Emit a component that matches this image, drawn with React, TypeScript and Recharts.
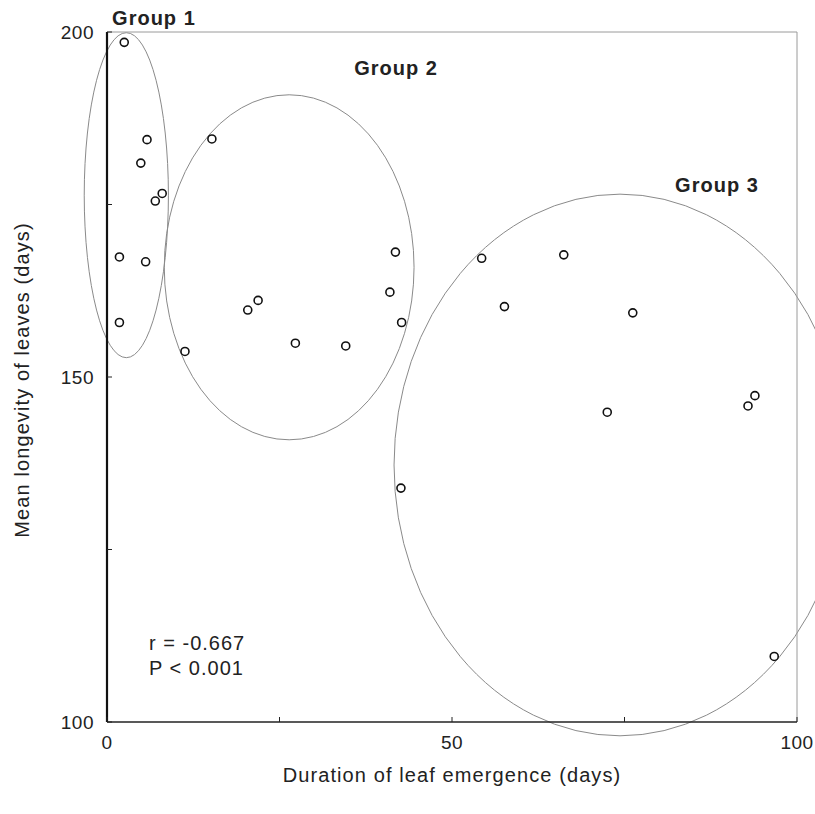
import React from "react";
import {
  ScatterChart,
  Scatter,
  XAxis,
  YAxis,
  ReferenceArea,
  ReferenceLine,
  ReferenceDot,
} from "recharts";

const FONT = '"Liberation Sans", Arial, Helvetica, sans-serif';

// leaf emergence duration (days) and mean leaf longevity (days)
const duration = [
  2.5, 5.8, 4.9, 8.0, 7.0, 1.8, 5.6, 1.8,
  15.2, 11.3, 20.4, 21.9, 27.3, 34.6, 41.8, 41.0, 42.7,
  42.6, 54.3, 66.2, 57.6, 76.2, 72.5, 93.9, 92.9, 96.7,
];
const longevity = [
  198.5, 184.4, 181.0, 176.6, 175.5, 167.4, 166.7, 157.9,
  184.5, 153.7, 159.7, 161.1, 154.9, 154.5, 168.1, 162.3, 157.9,
  133.9, 167.2, 167.7, 160.2, 159.3, 144.9, 147.3, 145.8, 109.5,
];

const xTicks = [0, 25, 50, 75, 100];
const yTicks = [100, 125, 150, 175, 200];
const labelled = [0, 50, 100, 150, 200];

// group ellipses: bounding boxes in data units [x1, x2, y1, y2]
const groupNames = ["Group 1", "Group 2", "Group 3"];
const groupBoxes = [
  [-3.3, 8.9, 152.8, 199.9],
  [8.3, 44.5, 140.9, 190.9],
  [41.6, 107.1, 98.0, 176.5],
];
const groupLabelX = [6.8, 41.9, 88.4];
const groupLabelY = [202.0, 194.8, 177.8];

const statLines = ["r = -0.667", "P < 0.001"];
const statX = 6.1;
const statY = [111.4, 107.8];

const points = duration.map((d, i) => ({ x: d, y: longevity[i] }));

const XTick = (props: any) => {
  const { x, y, payload } = props;
  return (
    <g>
      <line x1={x} y1={y} x2={x} y2={y - 5} stroke="#222" strokeWidth={1} />
      {labelled.includes(payload.value) && (
        <text x={x} y={y + 27} textAnchor="middle" fontSize={19} letterSpacing={0.5} fontFamily={FONT} fill="#222">
          {payload.value}
        </text>
      )}
    </g>
  );
};

const YTick = (props: any) => {
  const { x, y, payload } = props;
  return (
    <g>
      <line x1={x} y1={y} x2={x + 5} y2={y} stroke="#222" strokeWidth={1} />
      {labelled.includes(payload.value) && (
        <text x={x - 13} y={y + 7} textAnchor="end" fontSize={19} letterSpacing={0.5} fontFamily={FONT} fill="#222">
          {payload.value}
        </text>
      )}
    </g>
  );
};

const XTitle = (props: any) => {
  const vb = props.viewBox;
  return (
    <text
      x={vb.x + vb.width / 2}
      y={vb.y + 60}
      textAnchor="middle"
      fontSize={20}
      letterSpacing={1.1}
      fontFamily={FONT}
      fill="#222"
    >
      Duration of leaf emergence (days)
    </text>
  );
};

const YTitle = (props: any) => {
  const vb = props.viewBox;
  const cx = vb.x + 22;
  const cy = vb.y + vb.height / 2 + 3;
  return (
    <text
      x={cx}
      y={cy}
      transform={`rotate(-90 ${cx} ${cy})`}
      textAnchor="middle"
      dominantBaseline="central"
      fontSize={20}
      letterSpacing={1.1}
      fontFamily={FONT}
      fill="#222"
    >
      Mean longevity of leaves (days)
    </text>
  );
};

const Ellipse = (props: any) => {
  const { x, y, width, height } = props;
  return (
    <ellipse
      cx={x + width / 2}
      cy={y + height / 2}
      rx={Math.abs(width) / 2}
      ry={Math.abs(height) / 2}
      fill="none"
      stroke="#8a8a8a"
      strokeWidth={1}
    />
  );
};

const textShape = (txt: string, anchor: string, size: number, weight: any) => (props: any) => (
  <text
    x={props.cx}
    y={props.cy}
    textAnchor={anchor}
    dominantBaseline="central"
    fontSize={size}
    fontWeight={weight}
    letterSpacing={1}
    fontFamily={FONT}
    fill="#222"
  >
    {txt}
  </text>
);

const OpenCircle = (props: any) => (
  <circle cx={props.cx} cy={props.cy} r={4} fill="#fff" stroke="#111" strokeWidth={1.6} />
);

export default function App() {
  return (
    <div style={{ position: "absolute", left: 0, top: 0, background: "#fff" }}>
      <ScatterChart width={815} height={814} margin={{ top: 32, right: 18, bottom: 0, left: 0 }}>
        <XAxis
          type="number"
          dataKey="x"
          domain={[0, 100]}
          ticks={xTicks}
          allowDataOverflow
          tickLine={false}
          tickSize={0}
          tickMargin={0}
          tick={<XTick />}
          height={92}
          axisLine={{ stroke: "#222", strokeWidth: 1.6 }}
          label={{ content: <XTitle /> }}
        />
        <YAxis
          type="number"
          dataKey="y"
          domain={[100, 200]}
          ticks={yTicks}
          allowDataOverflow
          tickLine={false}
          tickSize={0}
          tickMargin={0}
          tick={<YTick />}
          width={107}
          axisLine={{ stroke: "#111", strokeWidth: 2.2 }}
          label={{ content: <YTitle /> }}
        />
        <ReferenceLine y={200} stroke="#9a9a9a" strokeWidth={1} />
        <ReferenceLine x={100} stroke="#9a9a9a" strokeWidth={1} />
        {groupBoxes.map((b, i) => (
          <ReferenceArea
            key={groupNames[i]}
            x1={b[0]}
            x2={b[1]}
            y1={b[2]}
            y2={b[3]}
            ifOverflow="visible"
            shape={<Ellipse />}
          />
        ))}
        {groupNames.map((g, i) => (
          <ReferenceDot
            key={g}
            x={groupLabelX[i]}
            y={groupLabelY[i]}
            r={0}
            ifOverflow="visible"
            shape={textShape(g, "middle", 20, 600)}
          />
        ))}
        {statLines.map((s, i) => (
          <ReferenceDot
            key={s}
            x={statX}
            y={statY[i]}
            r={0}
            ifOverflow="visible"
            shape={textShape(s, "start", 20, 400)}
          />
        ))}
        <Scatter data={points} shape={<OpenCircle />} isAnimationActive={false} />
      </ScatterChart>
    </div>
  );
}
